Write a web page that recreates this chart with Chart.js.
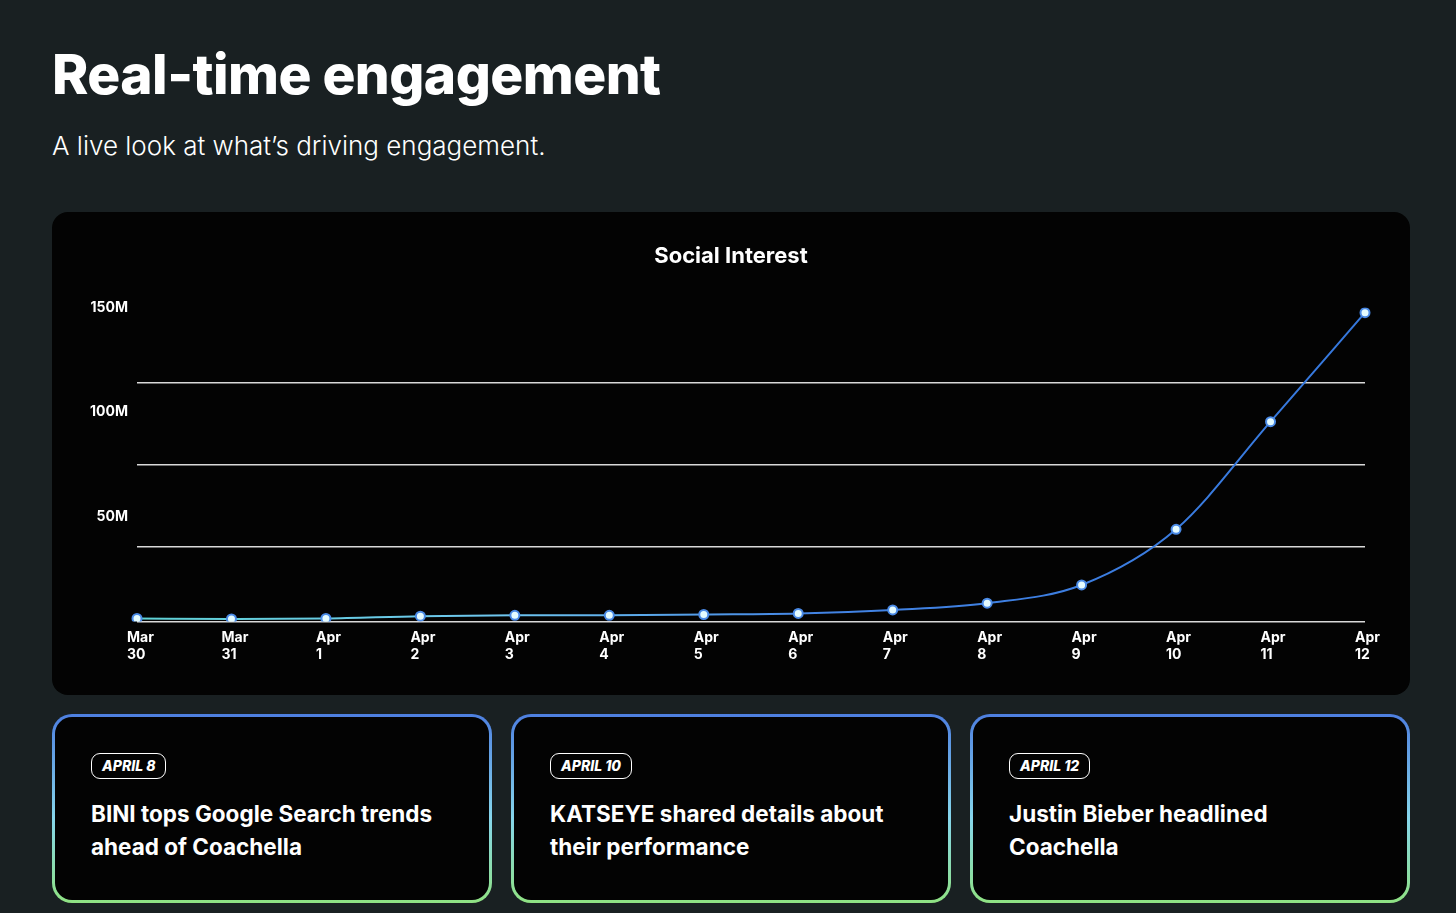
<!DOCTYPE html>
<html>
<head>
<meta charset="utf-8">
<title>Real-time engagement</title>
<script src="https://cdn.jsdelivr.net/npm/chart.js@4"></script>
<style>
  body {
    margin: 0;
    width: 1456px;
    height: 913px;
    overflow: hidden;
    position: relative;
    background: #192022;
    color: #fff;
    font-family: Inter, "Noto Sans", sans-serif;
  }
  h1 {
    position: absolute;
    left: 52px;
    top: 47px;
    margin: 0;
    font-size: 55px;
    line-height: 55px;
    font-weight: 800;
    letter-spacing: -0.55px;
  }
  .sub {
    position: absolute;
    left: 52px;
    top: 133px;
    margin: 0;
    font-size: 26px;
    line-height: 25px;
    font-weight: 300;
  }
  .panel {
    position: absolute;
    left: 52px;
    top: 212px;
    width: 1358px;
    height: 483px;
    border-radius: 16px;
    background: #030303;
  }
  .panel canvas { position: absolute; left: 0; top: 0; }
  .card {
    position: absolute;
    top: 714px;
    width: 440px;
    height: 189px;
    box-sizing: border-box;
    border: 3px solid transparent;
    border-radius: 20px;
    background: linear-gradient(#030303, #030303) padding-box,
                linear-gradient(to bottom, #4d7fe0, #86d6ec 55%, #8fe283) border-box;
  }
  .pill {
    position: absolute;
    left: 36px;
    top: 36px;
    height: 26px;
    box-sizing: border-box;
    border: 1.2px solid #fff;
    border-radius: 9px;
    padding: 0 10px;
    font-size: 14px;
    line-height: 24px;
    font-style: italic;
    font-weight: 800;
  }
  .headline {
    position: absolute;
    left: 36px;
    top: 80px;
    width: 352px;
    margin: 0;
    font-size: 22.5px;
    line-height: 33.4px;
    font-weight: 700;
  }
</style>
</head>
<body>
<h1>Real-time engagement</h1>
<p class="sub">A live look at what’s driving engagement.</p>

<div class="panel">
  <canvas id="grafico-social" width="1358" height="483"></canvas>
</div>

<div class="card" style="left:52px">
  <div class="pill">APRIL 8</div>
  <p class="headline">BINI tops Google Search trends ahead of Coachella</p>
</div>
<div class="card" style="left:511px">
  <div class="pill">APRIL 10</div>
  <p class="headline">KATSEYE shared details about their performance</p>
</div>
<div class="card" style="left:970px">
  <div class="pill">APRIL 12</div>
  <p class="headline">Justin Bieber headlined Coachella</p>
</div>

<script>
// dias do eixo x
const dateLabels = ['Mar 30', 'Mar 31', 'Apr 1', 'Apr 2', 'Apr 3', 'Apr 4', 'Apr 5',
  'Apr 6', 'Apr 7', 'Apr 8', 'Apr 9', 'Apr 10', 'Apr 11', 'Apr 12'];

// interesse social
const socialInterest = [1.4e6, 1.2e6, 1.4e6, 2.5e6, 2.9e6, 2.9e6, 3.3e6,
  3.8e6, 5.5e6, 8.7e6, 17.4e6, 44.0e6, 95.4e6, 147.5e6];

// rotulos do eixo y e linhas de grade
const yTickValues = [50e6, 100e6, 150e6];
const gridValues = [0, 35.5e6, 74.9e6, 113.8e6];

function gradienteLinha(chart) {
  const area = chart.chartArea;
  if (!area) return '#3f80e3';
  const g = chart.ctx.createLinearGradient(area.left, 0, area.right, 0);
  g.addColorStop(0, '#5fd3d6');
  g.addColorStop(0.3, '#6fc6ef');
  g.addColorStop(0.55, '#4384e4');
  g.addColorStop(1, '#3577dc');
  return g;
}

// o eixo y fica estreito para o titulo ficar centrado; alarga so a area de recorte dos rotulos
const alargarEixo = {
  id: 'alargarEixo',
  afterLayout(chart) {
    chart.scales.y.left = 0;
  }
};

function carregarGraficoSocial() {
  const ctx = document.getElementById('grafico-social').getContext('2d');
  const fonteEixo = { family: 'Inter', size: 14, weight: 'bold' };
  new Chart(ctx, {
    type: 'line',
    data: {
      labels: dateLabels.map(d => d.split(' ')),
      datasets: [{
        label: 'Social Interest',
        data: socialInterest,
        borderColor: c => gradienteLinha(c.chart),
        borderWidth: 2,
        cubicInterpolationMode: 'monotone',
        pointRadius: 4.5,
        pointBackgroundColor: '#e4fbff',
        pointBorderColor: '#4a8ae6',
        pointBorderWidth: 2
      }]
    },
    plugins: [alargarEixo],
    options: {
      responsive: false,
      animation: false,
      layout: { padding: { left: 45, right: 45, top: 20, bottom: 24 } },
      plugins: {
        legend: { display: false },
        tooltip: { enabled: false },
        title: {
          display: true,
          text: 'Social Interest',
          color: '#fff',
          font: { family: 'Inter', size: 22, weight: 'bold' },
          padding: { top: 11, bottom: 38 }
        }
      },
      scales: {
        x: {
          grid: { display: false, drawTicks: false },
          border: { display: false },
          ticks: {
            color: '#fff',
            font: fonteEixo,
            align: 'start',
            labelOffset: -10,
            padding: 8,
            lineHeight: 1.1,
            maxRotation: 0,
            autoSkip: false
          }
        },
        y: {
          min: 0,
          max: 150e6,
          border: { display: false },
          grid: {
            drawTicks: false,
            lineWidth: 1.5,
            color: c => gridValues.includes(c.tick.value) ? 'rgba(255,255,255,0.85)' : 'transparent'
          },
          afterBuildTicks: axis => {
            axis.ticks = [...gridValues, ...yTickValues].sort((a, b) => a - b).map(v => ({ value: v }));
          },
          afterFit: axis => { axis.width = 40; },
          ticks: {
            color: '#fff',
            font: fonteEixo,
            padding: 9,
            callback: v => yTickValues.includes(v) ? (v / 1e6) + 'M' : ''
          }
        }
      }
    }
  });
}

document.addEventListener('DOMContentLoaded', carregarGraficoSocial);
</script>
</body>
</html>
